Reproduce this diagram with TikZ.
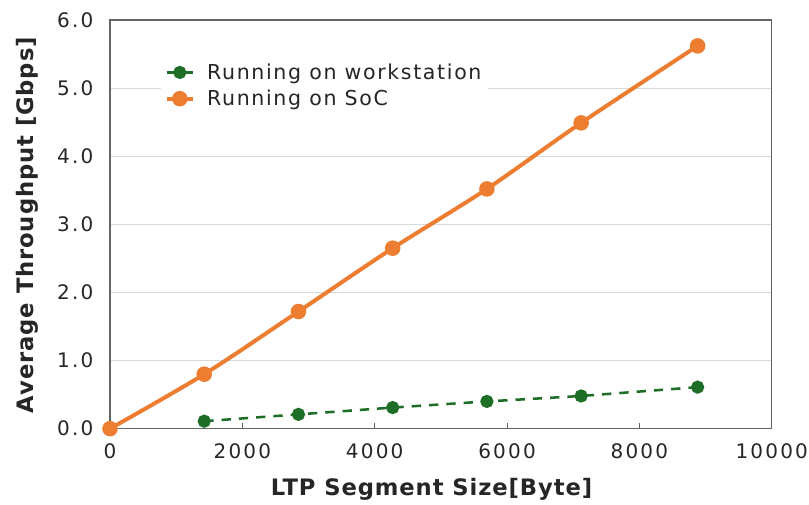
\documentclass[tikz,border=0pt]{standalone}
\usepackage{fontspec}
\setmainfont{DejaVu Sans}
\newfontfamily\tickfont{DejaVu Sans}[LetterSpace=11]
\newfontfamily\legendfont{DejaVu Sans}[LetterSpace=8]
\newfontfamily\titlefont{DejaVu Sans}[LetterSpace=4]
\usepackage{pgfplots}
\pgfplotsset{compat=1.18}
\usetikzlibrary{positioning}
\definecolor{socorange}{RGB}{237,125,49}
\definecolor{wsgreen}{RGB}{31,110,40}
\definecolor{axisgray}{RGB}{100,100,100}
\definecolor{gridgray}{RGB}{217,217,217}
\tikzset{
    soc line/.style={socorange, line width=3pt, mark=*, mark size=4.3pt, mark options={solid, fill=socorange, draw=none}},
    ws line/.style={wsgreen, line width=1.9pt, dash pattern=on 7pt off 6pt, mark=*, mark size=4pt, mark options={solid, fill=wsgreen, draw=none}},
    tick text/.style={font=\tickfont\fontsize{15}{17}\selectfont, text=black!85},
    axis title/.style={font=\titlefont\fontsize{17}{19}\selectfont\bfseries, text=black!85}
}

\begin{document}
\begin{tikzpicture}
	\useasboundingbox (-82.5pt,-56.5pt) rectangle (524.25pt,321.5pt);
	\begin{axis}[
		scale only axis,
		width=496.3pt, height=306.5pt,
		xmin=0, xmax=10000, ymin=0, ymax=6,
		xtick={0,2000,...,10000}, ytick={0,1,...,6},
		scaled x ticks=false,
		xticklabel={\pgfmathprintnumber[assume math mode=true,1000 sep={}]{\tick}},
		yticklabel={\pgfmathprintnumber[assume math mode=true,fixed,fixed zerofill,precision=1]{\tick}},
		xticklabel style={tick text, yshift=-8pt},
		yticklabel style={tick text, xshift=-9pt},
		tick align=inside, xtick pos=bottom, ytick style={draw=none},
		major tick length=4.5pt,
		axis line style={axisgray, line width=0.8pt},
		xtick style={axisgray, line width=0.8pt},
		ymajorgrids, grid style={gridgray, line width=0.8pt},
		xlabel={LTP Segment Size[Byte]},
		ylabel={Average Throughput [Gbps]},
		xlabel style={axis title, at={(axis description cs:0.486,-0.149)}, anchor=center},
		ylabel style={axis title, at={(axis description cs:-0.125,0.498)}, anchor=center},
		legend style={at={(axis description cs:0.076,0.907)}, anchor=north west, draw=none, fill=white,
			font=\legendfont\fontsize{15.4}{17}\selectfont, text=black!85, row sep=2.5pt, column sep=7pt},
		legend image code/.code={\draw[#1] (0cm,0cm) -- (0.7cm,0cm);
			\draw[#1, mark repeat=2, mark phase=2] plot coordinates {(0cm,0cm) (0.35cm,0cm) (0.7cm,0cm)};},
		legend cell align=left,
		clip=false]
		% workstation
		\addplot[ws line] coordinates {
			(1424,0.11) (2848,0.21) (4272,0.31) (5696,0.40) (7120,0.48) (8880,0.61)};
		\addlegendentry{Running on workstation}
		% SoC
		\addplot[soc line, smooth] coordinates {
			(0,0) (1424,0.80) (2848,1.72) (4272,2.65) (5696,3.52) (7120,4.49) (8880,5.62)};
		\addlegendentry{Running on SoC}
	\end{axis}
\end{tikzpicture}
\end{document}
